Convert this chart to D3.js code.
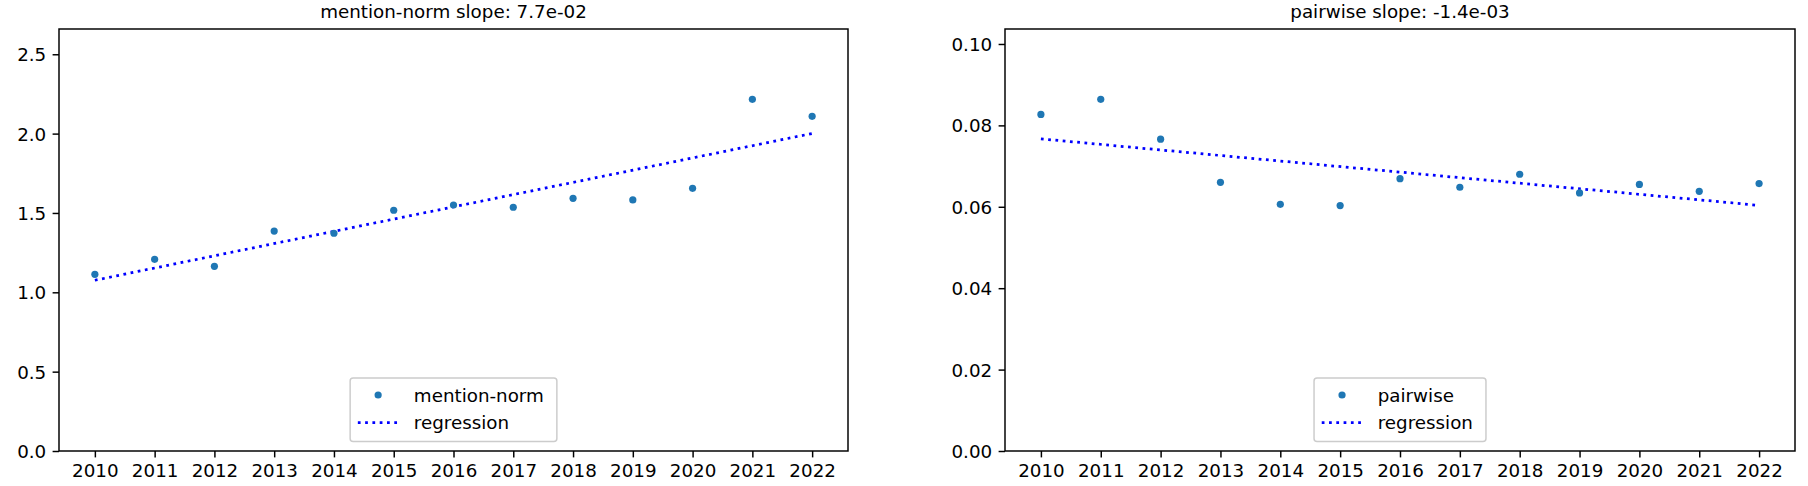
<!DOCTYPE html>
<html><head><meta charset="utf-8">
<script src="https://cdn.jsdelivr.net/npm/d3@7"></script>
<style>
html,body{margin:0;padding:0;background:#fff;}
svg{display:block;font-family:"DejaVu Sans",sans-serif;}
</style></head>
<body>
<svg id="chart" width="1808" height="486"></svg>
<script>
// ---- data ----
const years = [2010,2011,2012,2013,2014,2015,2016,2017,2018,2019,2020,2021,2022];
const mentionNorm = [1.113,1.208,1.164,1.386,1.372,1.517,1.550,1.536,1.592,1.582,1.655,2.216,2.109];
const pairwise = [0.0827,0.0864,0.0766,0.0660,0.0606,0.0603,0.0669,0.0648,0.0680,0.0634,0.0655,0.0638,0.0657];
const titles = ["mention-norm slope: 7.7e-02","pairwise slope: -1.4e-03"];
const seriesNames = ["mention-norm","pairwise"];
const regLabel = "regression";
const yTicksLeft = [0,0.5,1.0,1.5,2.0,2.5];
const yTicksRight = [0,0.02,0.04,0.06,0.08,0.10];

const svg = d3.select("#chart");
const FS = 18.3;

function linreg(xs, ys){
  const n = xs.length, mx = d3.mean(xs), my = d3.mean(ys);
  let num=0, den=0;
  for(let i=0;i<n;i++){num+=(xs[i]-mx)*(ys[i]-my);den+=(xs[i]-mx)**2;}
  const b = num/den; return {b, a: my - b*mx};
}

function panel(cfg){
  const {x0,x1,y0,y1,values,title,name,yTicks,fmt} = cfg;
  const g = svg.append("g");
  const x = d3.scaleLinear().domain([2009.4,2022.6]).range([x0,x1]);
  const ymax = d3.max(values)*1.2;
  const y = d3.scaleLinear().domain([0,ymax]).range([y1,y0]);

  // regression
  const r = linreg(years, values);
  const line = d3.line().x(d=>x(d)).y(d=>y(r.a + r.b*d));
  g.append("path").attr("d", line([years[0], years[years.length-1]]))
    .attr("fill","none").attr("stroke","#0000ff").attr("stroke-width",2.75)
    .attr("stroke-dasharray","2.75,4.54");

  // points
  g.selectAll("circle.pt").data(years).enter().append("circle")
    .attr("cx",(d)=>x(d)).attr("cy",(d,i)=>y(values[i])).attr("r",3.6)
    .attr("fill","#1f77b4");

  // axes
  const xa = g.append("g").attr("transform",`translate(0,${y1})`)
    .call(d3.axisBottom(x).tickValues(years).tickFormat(d3.format("d")).tickSize(6.4).tickPadding(6.4));
  const ya = g.append("g").attr("transform",`translate(${x0},0)`)
    .call(d3.axisLeft(y).tickValues(yTicks).tickFormat(fmt).tickSize(6.4).tickPadding(6.4));
  [xa,ya].forEach(a=>{
    a.select(".domain").remove();
    a.selectAll("line").attr("stroke","#000").attr("stroke-width",1.47);
    a.selectAll("text").attr("font-size",FS).attr("fill","#000").attr("font-family","DejaVu Sans");
  });
  xa.selectAll("text").attr("dy","0.71em");
  ya.selectAll("text").attr("dy","0.36em");

  // frame
  g.append("rect").attr("x",x0).attr("y",y0).attr("width",x1-x0).attr("height",y1-y0)
    .attr("fill","none").attr("stroke","#000").attr("stroke-width",1.47);

  // title
  g.append("text").attr("x",(x0+x1)/2).attr("y",y0-11.3).attr("text-anchor","middle")
    .attr("font-size",FS).attr("fill","#000").text(title);

  // legend
  const lg = g.append("g");
  const box = lg.append("rect");
  const t1 = lg.append("text").attr("font-size",FS).text(name);
  const t2 = lg.append("text").attr("font-size",FS).text(regLabel);
  const tw = Math.max(t1.node().getComputedTextLength(), t2.node().getComputedTextLength());
  const hOff = 7.7, hl = 40.6, tOff = 63.7;
  const w = tOff + tw + 13;
  const bx = (x0+x1)/2 - w/2, bTop = 378, bBot = 441.5;
  box.attr("x",bx).attr("y",bTop).attr("width",w).attr("height",bBot-bTop).attr("rx",3)
    .attr("fill","#fff").attr("fill-opacity",0.8).attr("stroke","#cccccc").attr("stroke-width",1.47);
  const r1 = 395, r2 = 422.7;
  const hx = bx + hOff;
  lg.append("circle").attr("cx",hx+hl/2).attr("cy",r1).attr("r",3.6).attr("fill","#1f77b4");
  lg.append("line").attr("x1",hx).attr("x2",hx+hl).attr("y1",r2).attr("y2",r2)
    .attr("stroke","#0000ff").attr("stroke-width",2.75).attr("stroke-dasharray","2.75,4.54");
  t1.attr("x",bx+tOff).attr("y",r1).attr("dy","0.36em");
  t2.attr("x",bx+tOff).attr("y",r2).attr("dy","0.36em");
}

panel({x0:59,x1:848,y0:29,y1:451,values:mentionNorm,title:titles[0],name:seriesNames[0],
  yTicks:yTicksLeft,fmt:d3.format(".1f")});
panel({x0:1005,x1:1795,y0:29,y1:451,values:pairwise,title:titles[1],name:seriesNames[1],
  yTicks:yTicksRight,fmt:d3.format(".2f")});
</script>
</body></html>
